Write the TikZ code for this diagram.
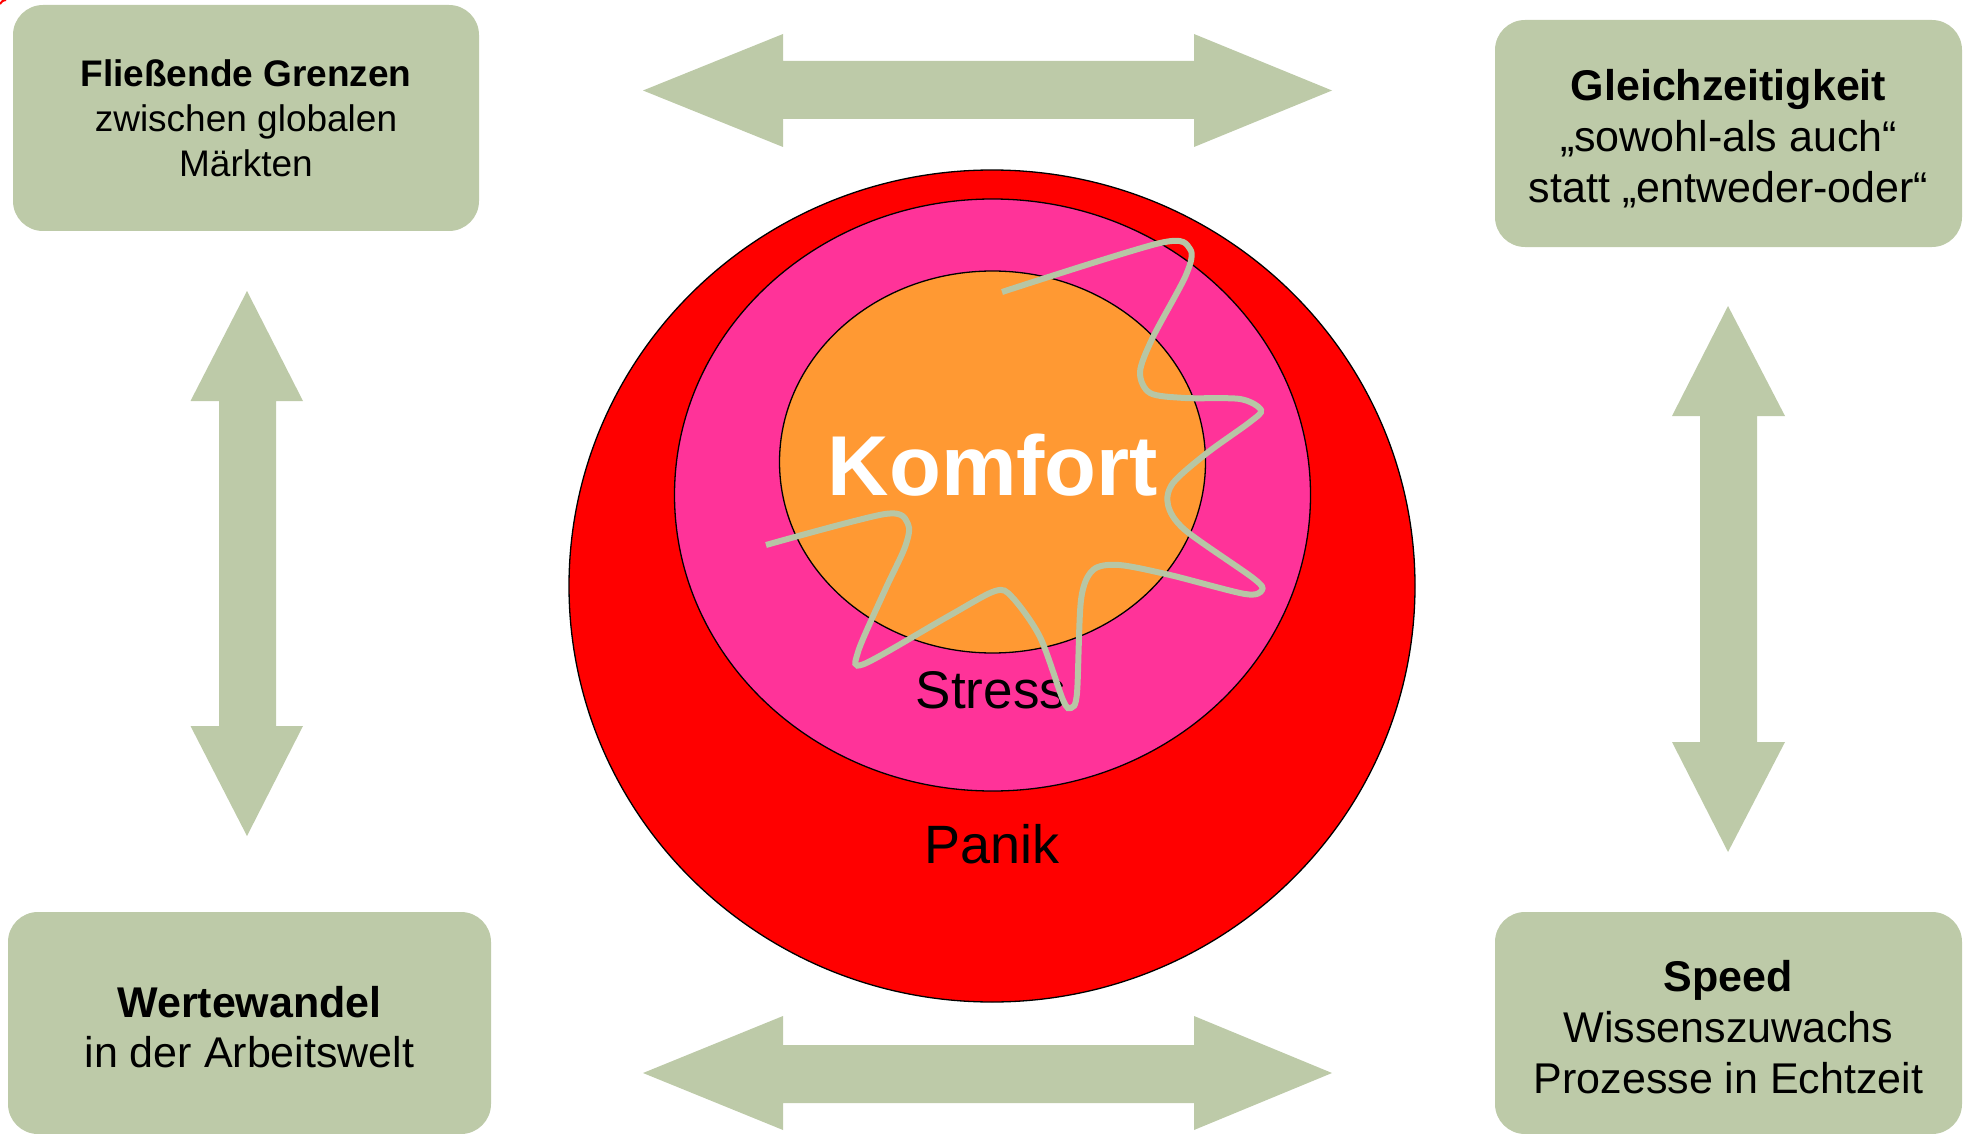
\documentclass[tikz,border=0pt]{standalone}
\usepackage{fontspec}
\setmainfont{Liberation Sans}
\usetikzlibrary{shapes.geometric}
\definecolor{boxgreen}{HTML}{BDCAA8}
\definecolor{squig}{HTML}{B7C6A5}
\definecolor{ringred}{HTML}{FF0000}
\definecolor{ringpink}{HTML}{FF3399}
\definecolor{ringorange}{HTML}{FF9933}
\begin{document}
\begin{tikzpicture}[x=1pt,y=-1pt,
  infobox/.style={fill=boxgreen, rounded corners=30pt, align=center, inner sep=0pt, text=black},
  boxlabel/.style={align=center, inner sep=0pt, text=black},
  blockarrow/.style={fill=boxgreen},
  ring/.style={ellipse, draw=black, line width=1.3pt, inner sep=0pt},
  smallfont/.style={font=\fontsize{37pt}{45pt}\selectfont},
  bigfont/.style={font=\fontsize{43pt}{50.7pt}\selectfont}]
\useasboundingbox (0,0) rectangle (1965,1134);

% corner mark
\draw[ringred, line width=2pt] (0,4) .. controls (2,1) .. (6,0);

% boxes
\node[infobox, minimum width=466pt, minimum height=226pt] (tl) at (246,118) {};
\node[infobox, minimum width=467pt, minimum height=227pt] (tr) at (1728.5,133.5) {};
\node[infobox, minimum width=483pt, minimum height=222pt] (bl) at (249.5,1023) {};
\node[infobox, minimum width=467pt, minimum height=222pt] (br) at (1728.5,1023) {};

\node[boxlabel, smallfont] (tltext) at (246,118.5)
  {\textbf{Fließende Grenzen}\\zwischen globalen\\Märkten};
\node[boxlabel, bigfont] (trtext) at (1728.5,138.5)
  {\textbf{Gleichzeitigkeit}\\„sowohl-als auch“\\statt „entweder-oder“};
\node[boxlabel, bigfont] (bltext) at (249.5,1027)
  {\textbf{Wertewandel}\\in der Arbeitswelt};
\node[boxlabel, bigfont] (brtext) at (1728.5,1027)
  {\textbf{Speed}\\Wissenszuwachs\\Prozesse in Echtzeit};

% block arrows
\fill[blockarrow] (643,90.5) -- (783,34) -- (783,61) -- (1194,61) -- (1194,34) -- (1332,90.5)
  -- (1194,147) -- (1194,119) -- (783,119) -- (783,147) -- cycle;
\fill[blockarrow] (643,1073) -- (783,1016) -- (783,1045) -- (1194,1045) -- (1194,1016) -- (1332,1073)
  -- (1194,1130) -- (1194,1103) -- (783,1103) -- (783,1130) -- cycle;
\fill[blockarrow] (247,291) -- (303,401) -- (276,401) -- (276,726) -- (303,726) -- (247,836)
  -- (190.5,726) -- (219,726) -- (219,401) -- (190.5,401) -- cycle;
\fill[blockarrow] (1728,306) -- (1785,416) -- (1757,416) -- (1757,742) -- (1785,742) -- (1728,852)
  -- (1672,742) -- (1700,742) -- (1700,416) -- (1672,416) -- cycle;

% rings
\node[ring, fill=ringred, minimum width=846pt, minimum height=832pt] (outer) at (992,586) {};
\node[ring, fill=ringpink, minimum width=636pt, minimum height=592pt] (middle) at (992.5,495) {};
\node[ring, fill=ringorange, minimum width=426pt, minimum height=382pt] (inner) at (992.5,462) {};

\node[anchor=base, text=white, font=\fontsize{85pt}{90pt}\selectfont\bfseries] (komfort) at (993,495) {Komfort};
\node[anchor=base, font=\fontsize{53pt}{60pt}\selectfont] (stress) at (991,708) {Stress};
\node[anchor=base, font=\fontsize{54pt}{60pt}\selectfont] (panik) at (992,863) {Panik};

% squiggle
\draw[squig, line width=6pt] plot[smooth, tension=0.5] coordinates {
 (1002,292) (1160,243) (1190,249) (1186,275) (1153,337) (1140,372) (1150,393) (1185,398)
 (1240,399) (1261,410) (1250,422) (1207,453) (1173,483) (1168,505) (1185,530) (1253,578)
 (1262,590) (1245,594) (1170,575) (1119,565) (1093,570) (1081,600) (1077,693) (1071,708)
 (1063,700) (1040,637) (1012,597) (995,591) (947,617) (864,664) (858,652) (885,590)
 (905,547) (908,524) (885,514) (766,545)};
\end{tikzpicture}
\end{document}
